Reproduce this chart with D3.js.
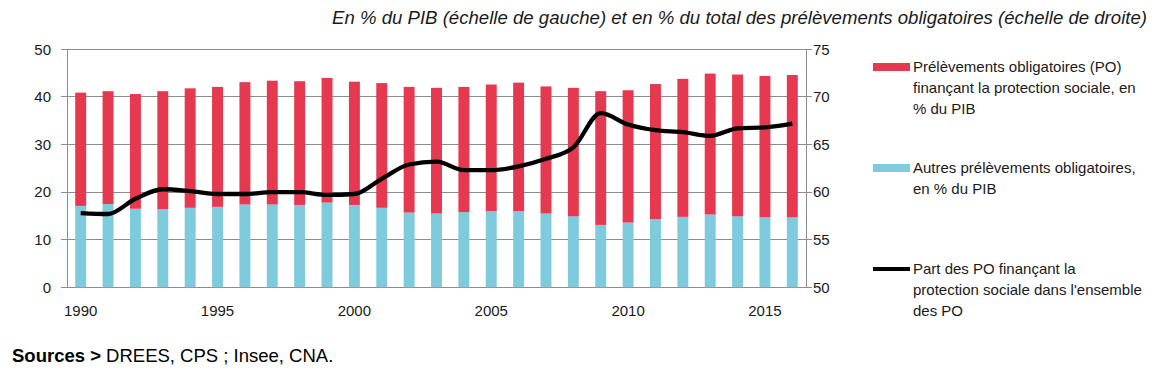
<!DOCTYPE html>
<html><head><meta charset="utf-8">
<script src="https://cdn.jsdelivr.net/npm/d3@7"></script>
<style>body{margin:0;background:#fff}svg{display:block;font-family:"Liberation Sans",Arial,sans-serif}</style>
</head><body><svg id="c" width="1165" height="378"></svg>
<script>
const years = d3.range(1990, 2017).map(String);
const totalPO = [40.9,41.2,40.6,41.2,41.8,42.1,43.1,43.4,43.3,44.0,43.2,42.9,42.1,41.9,42.1,42.6,43.0,42.2,41.9,41.2,41.4,42.7,43.8,44.9,44.7,44.4,44.6];
const autresPO = [17.1,17.5,16.5,16.4,16.7,16.9,17.4,17.4,17.3,17.8,17.3,16.7,15.7,15.5,15.8,16.0,16.0,15.5,14.9,13.1,13.6,14.3,14.8,15.3,14.9,14.7,14.7];
const poProtSoc = totalPO.map((t,i)=>+(t-autresPO[i]).toFixed(1));
const partPO = [57.8,57.7,59.3,60.3,60.1,59.8,59.8,60.0,60.0,59.7,59.8,61.4,62.9,63.2,62.3,62.3,62.7,63.5,64.7,68.3,67.1,66.5,66.3,65.9,66.7,66.8,67.2];
const leftTicks = [0,10,20,30,40,50];
const rightTicks = [50,55,60,65,70,75];
const xTickLabels = ["1990","1995","2000","2005","2010","2015"];

const RED = "#E63950", BLUE = "#7ECBDD";
const svg = d3.select("#c");
const L = 67, R = 806, T = 49.3, B = 287.3;
const x = d3.scaleBand().domain(years).range([L, R]).paddingInner(0.6).paddingOuter(0.3);
const yL = d3.scaleLinear().domain([0,50]).range([B,T]);
const yR = d3.scaleLinear().domain([50,75]).range([B,T]);

// gridlines
svg.append("g").selectAll("line").data(leftTicks).join("line")
  .attr("x1", L-6).attr("x2", R+6).attr("y1", d=>yL(d)).attr("y2", d=>yL(d))
  .attr("stroke", "#8c8c8c").attr("stroke-width", 1).attr("shape-rendering","crispEdges");
// axis lines
svg.append("line").attr("x1",L).attr("x2",L).attr("y1",T).attr("y2",B).attr("stroke","#8c8c8c").attr("shape-rendering","crispEdges");
svg.append("line").attr("x1",R).attr("x2",R).attr("y1",T).attr("y2",B).attr("stroke","#8c8c8c").attr("shape-rendering","crispEdges");

// bars
const data = years.map((y,i)=>({y, a:autresPO[i], p:poProtSoc[i]}));
svg.append("g").selectAll("rect").data(data).join("rect")
  .attr("x", d=>x(d.y)).attr("width", x.bandwidth())
  .attr("y", d=>yL(d.a)).attr("height", d=>yL(0)-yL(d.a)).attr("fill", BLUE);
svg.append("g").selectAll("rect").data(data).join("rect")
  .attr("x", d=>x(d.y)).attr("width", x.bandwidth())
  .attr("y", d=>yL(d.a+d.p)).attr("height", d=>yL(d.a)-yL(d.a+d.p)).attr("fill", RED);

// line
const line = d3.line().x((d,i)=>x(years[i])+x.bandwidth()/2).y(d=>yR(d)).curve(d3.curveMonotoneX);
svg.append("path").datum(partPO).attr("d", line).attr("fill","none")
  .attr("stroke","#000").attr("stroke-width",4.3).attr("stroke-linejoin","round");

// tick labels
svg.append("g").selectAll("text").data(leftTicks).join("text")
  .attr("x", 51).attr("y", d=>yL(d)).attr("dy","0.35em").attr("text-anchor","end")
  .attr("font-size",15).attr("fill","#1a1a1a").text(d=>d);
svg.append("g").selectAll("text").data(rightTicks).join("text")
  .attr("x", 813).attr("y", d=>yR(d)).attr("dy","0.35em").attr("text-anchor","start")
  .attr("font-size",15).attr("fill","#1a1a1a").text(d=>d);
svg.append("g").selectAll("text").data(xTickLabels).join("text")
  .attr("x", d=>x(d)+x.bandwidth()/2).attr("y", 316).attr("text-anchor","middle")
  .attr("font-size",15).attr("fill","#1a1a1a").text(d=>d);

// title
svg.append("text").attr("x",332).attr("y",24)
  .attr("font-size",18).attr("font-style","italic").attr("fill","#1a1a1a")
  .attr("textLength",815).attr("lengthAdjust","spacingAndGlyphs")
  .text("En % du PIB (échelle de gauche) et en % du total des prélèvements obligatoires (échelle de droite)");

// legend
const legend = [
  {type:"rect", color:RED, y:67, lines:["Prélèvements obligatoires (PO)","finançant la protection sociale, en","% du PIB"]},
  {type:"rect", color:BLUE, y:168, lines:["Autres prélèvements obligatoires,","en % du PIB"]},
  {type:"line", color:"#000", y:269, lines:["Part des PO finançant la","protection sociale dans l'ensemble","des PO"]}
];
legend.forEach(l=>{
  if(l.type==="rect") svg.append("rect").attr("x",873).attr("y",l.y-4).attr("width",37).attr("height",8).attr("fill",l.color);
  else svg.append("line").attr("x1",873).attr("x2",910).attr("y1",l.y).attr("y2",l.y).attr("stroke",l.color).attr("stroke-width",4);
  const t = svg.append("text").attr("x",913).attr("y",l.y).attr("font-size",15).attr("fill","#1a1a1a");
  l.lines.forEach((s,i)=>t.append("tspan").attr("x",913).attr("y",l.y+i*20.8).attr("dy","0.35em").text(s));
});

// source
const s = svg.append("text").attr("x",12).attr("y",362).attr("font-size",18.5).attr("fill","#000");
s.append("tspan").attr("font-weight","bold").text("Sources > ");
s.append("tspan").text("DREES, CPS ; Insee, CNA.");
</script></body></html>
